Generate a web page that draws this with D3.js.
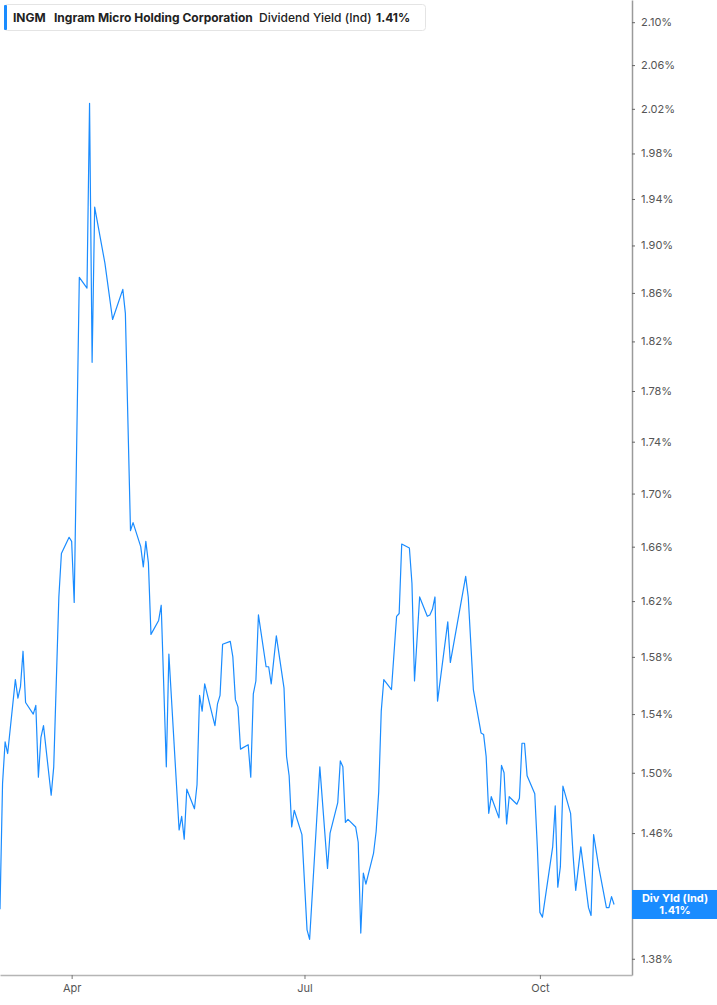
<!DOCTYPE html>
<html>
<head>
<meta charset="utf-8">
<script src="https://cdn.jsdelivr.net/npm/d3@7"></script>
<style>
  body { margin: 0; background: #fff; }
  #container { width: 717px; height: 1005px; }
  text { font-family: Inter, "Noto Sans", sans-serif; }
</style>
</head>
<body>
<div id="container"></div>
<script>
// Chart data
const dates = [
  "2025-03-04","2025-03-05","2025-03-06","2025-03-07","2025-03-10","2025-03-11","2025-03-12","2025-03-13","2025-03-14",
  "2025-03-17","2025-03-18","2025-03-19","2025-03-20","2025-03-21","2025-03-24","2025-03-25","2025-03-27","2025-03-28",
  "2025-03-31","2025-04-01","2025-04-02","2025-04-04","2025-04-07","2025-04-08","2025-04-09","2025-04-10","2025-04-14",
  "2025-04-17","2025-04-21","2025-04-22","2025-04-24","2025-04-25","2025-04-28","2025-04-29","2025-04-30","2025-05-01",
  "2025-05-02","2025-05-05","2025-05-06","2025-05-08","2025-05-09","2025-05-13","2025-05-14","2025-05-15","2025-05-16",
  "2025-05-19","2025-05-20","2025-05-21","2025-05-22","2025-05-23","2025-05-27","2025-05-28","2025-05-29","2025-05-30",
  "2025-06-02","2025-06-03","2025-06-04","2025-06-05","2025-06-06","2025-06-09","2025-06-10","2025-06-11","2025-06-12",
  "2025-06-13","2025-06-16","2025-06-17","2025-06-18","2025-06-20","2025-06-23","2025-06-24","2025-06-25","2025-06-26",
  "2025-06-27","2025-06-30","2025-07-02","2025-07-03","2025-07-07","2025-07-10","2025-07-11","2025-07-14","2025-07-15",
  "2025-07-16","2025-07-17","2025-07-18","2025-07-21","2025-07-22","2025-07-23","2025-07-24","2025-07-25","2025-07-28",
  "2025-07-29","2025-07-30","2025-07-31","2025-08-01","2025-08-04","2025-08-06","2025-08-07","2025-08-08","2025-08-11",
  "2025-08-12","2025-08-13","2025-08-15","2025-08-18","2025-08-19","2025-08-20","2025-08-21","2025-08-22","2025-08-26",
  "2025-08-27","2025-09-02","2025-09-03","2025-09-05","2025-09-08","2025-09-09","2025-09-10","2025-09-11","2025-09-12",
  "2025-09-15","2025-09-16","2025-09-17","2025-09-18","2025-09-19","2025-09-22","2025-09-23","2025-09-24","2025-09-25",
  "2025-09-26","2025-09-29","2025-09-30","2025-10-01","2025-10-02","2025-10-06","2025-10-07","2025-10-08","2025-10-09",
  "2025-10-10","2025-10-13","2025-10-14","2025-10-15","2025-10-17","2025-10-20","2025-10-21","2025-10-22","2025-10-24",
  "2025-10-27","2025-10-28","2025-10-29","2025-10-30"
];

const yields = [
  1.411,1.493,1.521,1.513,1.564,1.551,1.559,1.584,1.548,
  1.540,1.546,1.497,1.524,1.532,1.485,1.504,1.623,1.655,
  1.667,1.664,1.619,1.873,1.864,2.025,1.803,1.933,1.885,
  1.838,1.863,1.843,1.672,1.678,1.660,1.645,1.664,1.648,
  1.596,1.606,1.617,1.504,1.582,1.462,1.471,1.456,1.489,
  1.476,1.492,1.553,1.542,1.561,1.532,1.547,1.553,1.589,
  1.591,1.580,1.550,1.545,1.516,1.519,1.497,1.554,1.563,
  1.610,1.573,1.573,1.561,1.595,1.558,1.511,1.498,1.464,
  1.475,1.459,1.398,1.392,1.504,1.437,1.460,1.480,1.508,
  1.504,1.467,1.469,1.464,1.454,1.396,1.434,1.427,1.447,
  1.461,1.487,1.542,1.564,1.557,1.609,1.611,1.662,1.659,
  1.633,1.563,1.623,1.609,1.610,1.614,1.623,1.549,1.605,
  1.576,1.638,1.623,1.557,1.527,1.526,1.511,1.473,1.484,
  1.470,1.505,1.500,1.466,1.484,1.479,1.483,1.520,1.520,
  1.498,1.486,1.451,1.409,1.406,1.451,1.478,1.425,1.438,
  1.491,1.473,1.445,1.423,1.451,1.412,1.407,1.459,1.438,
  1.412,1.412,1.419,1.414
];

const yTicks = [1.38, 1.42, 1.46, 1.50, 1.54, 1.58, 1.62, 1.66, 1.70, 1.74, 1.78, 1.82, 1.86, 1.90, 1.94, 1.98, 2.02, 2.06, 2.10];
const xTicks = ["2025-04-01", "2025-07-01", "2025-10-01"];

const ticker = "INGM";
const company = "Ingram Micro Holding Corporation";
const metric = "Dividend Yield (Ind)";
const endLabel = "Div Yld (Ind)";

// Chart dimensions
const width = 717;
const height = 1005;
const plotRight = 632;
const plotBottom = 975;
const blue = "#1a8cff";

const parse = d3.timeParse("%Y-%m-%d");
const data = dates.map((d, i) => ({ date: parse(d), value: yields[i] }));
const last = data[data.length - 1];

// Scales (the value axis is logarithmic)
const x = d3.scaleTime()
  .domain([parse("2025-03-04"), parse("2025-11-06")])
  .range([0, plotRight]);

const y = d3.scaleLog()
  .domain([1.370, 2.121])
  .range([plotBottom, 0]);

const svg = d3.create("svg").attr("width", width).attr("height", height);
document.getElementById("container").appendChild(svg.node());

// Right axis
const yAxis = svg.append("g")
  .attr("transform", `translate(${plotRight},0)`)
  .call(d3.axisRight(y)
    .tickValues(yTicks)
    .tickSize(3)
    .tickSizeOuter(0)
    .tickPadding(6)
    .tickFormat(d => d.toFixed(2) + "%"));
yAxis.select(".domain").attr("stroke", "#9a9a9a").attr("stroke-width", 1.5);
yAxis.selectAll(".tick line").attr("stroke", "#666");
yAxis.selectAll(".tick text").attr("fill", "#555").attr("font-size", 11);

// Bottom axis
const xAxis = svg.append("g")
  .attr("transform", `translate(0,${plotBottom})`)
  .call(d3.axisBottom(x)
    .tickValues(xTicks.map(parse))
    .tickSize(4)
    .tickSizeOuter(0)
    .tickPadding(5)
    .tickFormat(d3.timeFormat("%b")));
xAxis.select(".domain").attr("stroke", "#b5b5b5").attr("stroke-width", 1.5);
xAxis.selectAll(".tick line").attr("stroke", "#777");
xAxis.selectAll(".tick text").attr("fill", "#555").attr("font-size", 11);

// Yield line
svg.append("path")
  .datum(data)
  .attr("fill", "none")
  .attr("stroke", blue)
  .attr("stroke-width", 1.2)
  .attr("stroke-linejoin", "round")
  .attr("d", d3.line()
    .x(d => x(d.date))
    .y(d => y(d.value)));

// Last value tag on the axis
const ly = y(last.value);
const tag = svg.append("g");
tag.append("rect")
  .attr("x", plotRight)
  .attr("y", ly - 14.5)
  .attr("width", width - plotRight)
  .attr("height", 29)
  .attr("fill", blue);
tag.append("text")
  .attr("x", 675)
  .attr("y", ly - 2)
  .attr("text-anchor", "middle")
  .attr("fill", "#fff")
  .attr("font-size", 11)
  .attr("font-weight", 700)
  .text(endLabel);
tag.append("text")
  .attr("x", 675)
  .attr("y", ly + 10)
  .attr("text-anchor", "middle")
  .attr("fill", "#fff")
  .attr("font-size", 11)
  .attr("font-weight", 700)
  .text(last.value.toFixed(2) + "%");

// Legend box in the top left
const legend = svg.append("g");
legend.append("rect")
  .attr("x", 4.5)
  .attr("y", 4.5)
  .attr("width", 421)
  .attr("height", 26)
  .attr("rx", 3)
  .attr("fill", "#fff")
  .attr("stroke", "#e4e4e4");
legend.append("rect")
  .attr("x", 4)
  .attr("y", 5)
  .attr("width", 3)
  .attr("height", 25)
  .attr("rx", 1)
  .attr("fill", blue);

const legendItems = [
  { text: ticker, x: 13, weight: 700 },
  { text: company, x: 54, weight: 700 },
  { text: metric, x: 259, weight: 500 },
  { text: last.value.toFixed(2) + "%", x: 376, weight: 700 }
];
legend.selectAll("text.item")
  .data(legendItems)
  .enter()
  .append("text")
  .attr("class", "item")
  .attr("x", d => d.x)
  .attr("y", 21.5)
  .attr("font-size", 12)
  .attr("font-weight", d => d.weight)
  .attr("fill", "#222")
  .text(d => d.text);
</script>
</body>
</html>
